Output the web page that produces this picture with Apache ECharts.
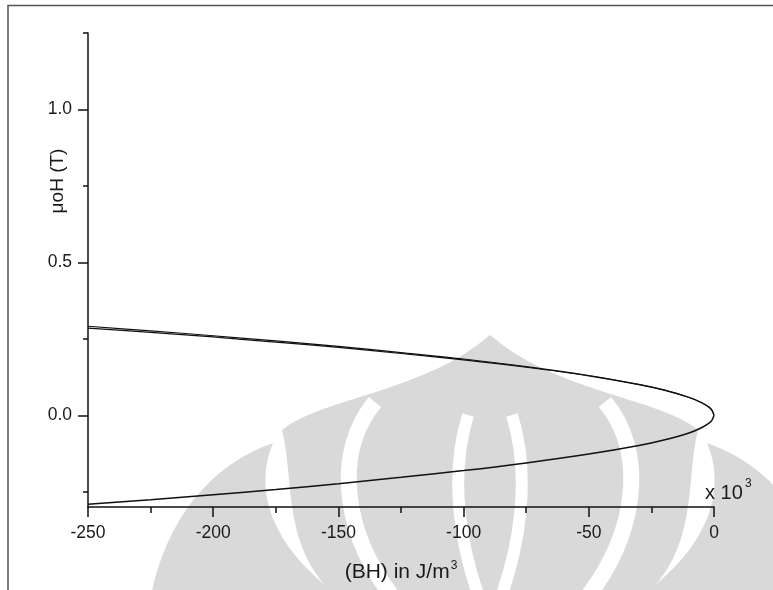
<!DOCTYPE html>
<html>
<head>
<meta charset="utf-8">
<script src="https://cdn.jsdelivr.net/npm/echarts@6/dist/echarts.min.js"></script>
<style>
  html, body { margin: 0; padding: 0; background: #fff; }
  #chart { width: 773px; height: 590px; }
</style>
</head>
<body>
<div id="chart"></div>
<script>
// Energy product (BH, x10^3 J/m^3) against applied field muoH (T)
// Upper branch, outer trace
const bhUpperA = [-250, -225, -200, -175, -150, -125, -100, -75, -50, -30, -20, -10, -5, -2, -0.8, 0];
const muHUpperA = [0.291, 0.276, 0.260, 0.243, 0.225, 0.205, 0.184, 0.159, 0.130, 0.101, 0.083, 0.059, 0.042, 0.027, 0.016, 0.0];
// Upper branch, inner trace
const bhUpperB = [-250, -225, -200, -175, -150, -125, -100, -75, -50, -30, -20, -10, -5, -2, -0.8, 0];
const muHUpperB = [0.285, 0.271, 0.256, 0.239, 0.222, 0.202, 0.181, 0.157, 0.129, 0.100, 0.082, 0.058, 0.041, 0.026, 0.016, 0.0];
// Lower branch
const bhLower = [0, -0.8, -2, -5, -10, -20, -30, -50, -75, -100, -125, -150, -175, -200, -225, -250];
const muHLower = [0.0, -0.016, -0.026, -0.041, -0.058, -0.081, -0.099, -0.127, -0.156, -0.181, -0.203, -0.224, -0.243, -0.260, -0.276, -0.291];

// Axis ticks and labels
const xTicks = [-250, -200, -150, -100, -50, 0];
const yMajor = [0, 0.5, 1.0];
const yMinor = [-0.25, 0.25, 0.75, 1.25];

const pairs = (xs, ys) => xs.map((x, i) => [x, ys[i]]);

const chart = echarts.init(document.getElementById('chart'), null, { renderer: 'canvas' });
const FONT = 'Liberation Sans, Arial, sans-serif';
const INK = '#1a1a1a';
const axisLine = { onZero: false, lineStyle: { color: '#111', width: 1.5 } };

// ---- light grey emblem sitting behind the plot ----
const MARK = '#d9d9d9';
// sample a chain of cubic segments: start point, then [c1, c2, end] triples
function outline(start, segs) {
  const pts = [start];
  let p0 = start;
  segs.forEach(s => {
    if (s.length === 1) { pts.push(s[0]); p0 = s[0]; return; }
    const [c1, c2, p3] = s;
    for (let i = 1; i <= 16; i++) {
      const t = i / 16, u = 1 - t;
      pts.push([
        u * u * u * p0[0] + 3 * u * u * t * c1[0] + 3 * u * t * t * c2[0] + t * t * t * p3[0],
        u * u * u * p0[1] + 3 * u * u * t * c1[1] + 3 * u * t * t * c2[1] + t * t * t * p3[1]
      ]);
    }
    p0 = p3;
  });
  return pts;
}
const fillShape = pts => ({ type: 'polygon', silent: true, z: -10, shape: { points: pts }, style: { fill: MARK } });
const band = (a, c1, c2, b, w) => ({
  type: 'bezierCurve', silent: true, z: -9,
  shape: { x1: a[0], y1: a[1], cpx1: c1[0], cpy1: c1[1], cpx2: c2[0], cpy2: c2[1], x2: b[0], y2: b[1] },
  style: { fill: null, stroke: '#fff', lineWidth: w }
});
const emblem = [
  fillShape(outline([150, 600], [[[165, 520], [210, 465], [273, 443]], [[255, 485], [265, 545], [345, 600]]])),
  fillShape(outline([830, 600], [[[815, 520], [770, 465], [707, 443]], [[725, 485], [715, 545], [635, 600]]])),
  fillShape(outline([282, 430], [
    [[320, 398], [425, 392], [490, 335]],
    [[555, 392], [660, 398], [698, 430]],
    [[685, 480], [700, 550], [640, 600]],
    [[340, 600]],
    [[280, 550], [295, 480], [282, 430]]
  ])),
  band([375, 402], [335, 450], [340, 530], [395, 600], 16),
  band([605, 402], [645, 450], [640, 530], [585, 600], 16),
  band([468, 415], [448, 480], [462, 550], [480, 600], 12),
  band([512, 415], [532, 480], [518, 550], [500, 600], 12)
];

chart.setOption({
  animation: false,
  backgroundColor: '#fff',
  grid: { left: 88, right: 59, top: 33, bottom: 83, containLabel: false, outerBoundsMode: 'none' },
  xAxis: {
    type: 'value',
    min: xTicks[0],
    max: xTicks[xTicks.length - 1],
    interval: 50,
    axisLine: axisLine,
    axisTick: { show: true, inside: false, length: 10, lineStyle: { color: '#111', width: 1.5 } },
    minorTick: { show: true, splitNumber: 2, length: 6, lineStyle: { color: '#111', width: 1.5 } },
    axisLabel: { color: INK, fontFamily: FONT, fontSize: 17.5, margin: 17 },
    splitLine: { show: false },
    minorSplitLine: { show: false },
    name: '{t|(BH) in J/m}{s|3}',
    nameLocation: 'middle',
    nameGap: 53,
    nameTextStyle: {
      rich: {
        t: { fontFamily: FONT, fontSize: 21, color: INK },
        s: { fontFamily: FONT, fontSize: 12, color: INK, verticalAlign: 'top', padding: [0, 0, 12, 1] }
      }
    }
  },
  yAxis: [
    {
      type: 'value',
      min: -0.3,
      max: 1.25,
      axisLine: axisLine,
      axisTick: { show: true, length: 10, customValues: yMajor, lineStyle: { color: '#111', width: 1.5 } },
      axisLabel: {
        customValues: yMajor,
        color: INK, fontFamily: FONT, fontSize: 17.5, margin: 16,
        formatter: v => v.toFixed(1)
      },
      splitLine: { show: false }
    },
    {
      type: 'value',
      min: -0.3,
      max: 1.25,
      position: 'left',
      offset: 0,
      axisLine: { show: false, onZero: false },
      axisTick: { show: true, length: 5, customValues: yMinor, lineStyle: { color: '#111', width: 1.5 } },
      axisLabel: { show: false, customValues: yMinor },
      splitLine: { show: false }
    }
  ],
  graphic: emblem.concat([
    // outer frame
    { type: 'polyline', silent: true, z: 100,
      shape: { points: [[8, 600], [8, 5.5], [780, 5.5]] },
      style: { stroke: '#555', lineWidth: 1.5, fill: null } },
    // y axis title
    { type: 'text', x: 58, y: 181, rotation: Math.PI / 2, silent: true,
      style: { text: 'μoH (T)', font: '19px ' + FONT, fill: INK, align: 'center', verticalAlign: 'middle' } },
    // axis multiplier
    { type: 'text', x: 705, y: 503, silent: true,
      style: { text: 'x 10', font: '20px ' + FONT, fill: INK, align: 'left', verticalAlign: 'bottom' } },
    { type: 'text', x: 745, y: 478, silent: true,
      style: { text: '3', font: '12px ' + FONT, fill: INK, align: 'left', verticalAlign: 'top' } }
  ]),
  series: [
    { type: 'line', data: pairs(bhUpperA, muHUpperA), smooth: 0.35, showSymbol: false,
      lineStyle: { color: '#111', width: 1.2 } },
    { type: 'line', data: pairs(bhUpperB, muHUpperB), smooth: 0.35, showSymbol: false,
      lineStyle: { color: '#111', width: 1.2 } },
    { type: 'line', data: pairs(bhLower, muHLower), smooth: 0.35, showSymbol: false,
      lineStyle: { color: '#111', width: 1.5 } }
  ]
});
</script>
</body>
</html>
